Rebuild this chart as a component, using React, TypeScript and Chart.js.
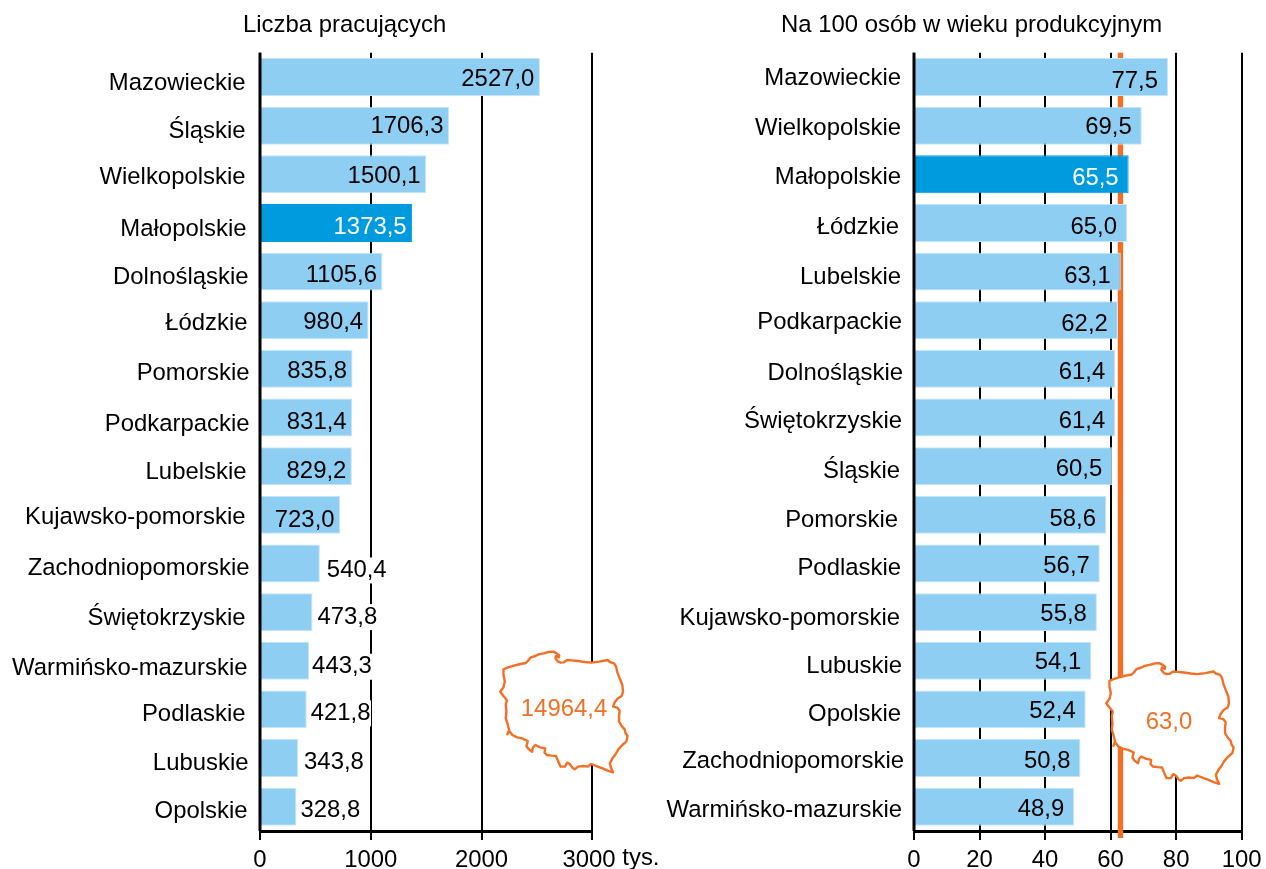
import React, { useEffect, useRef } from "react";
import { Chart, registerables } from "chart.js";

Chart.register(...registerables);

const FONT = '"Liberation Sans", Arial, sans-serif';
const TEXT_SIZE = 23.9;
const LIGHT = "#8ECEF3";
const LIGHT_EDGE = "#C4E5F9";
const DARK = "#009BDE";
const ORANGE = "#F26F25";

const leftTitle = "Liczba pracujących";
const leftCategories = ["Mazowieckie", "Śląskie", "Wielkopolskie", "Małopolskie", "Dolnośląskie", "Łódzkie", "Pomorskie", "Podkarpackie", "Lubelskie", "Kujawsko-pomorskie", "Zachodniopomorskie", "Świętokrzyskie", "Warmińsko-mazurskie", "Podlaskie", "Lubuskie", "Opolskie"];
const leftValues = [2527.0, 1706.3, 1500.1, 1373.5, 1105.6, 980.4, 835.8, 831.4, 829.2, 723.0, 540.4, 473.8, 443.3, 421.8, 343.8, 328.8];
const leftTicks = [0, 1000, 2000, 3000];
const leftTotal = "14964,4";
const leftUnit = "tys.";

const rightTitle = "Na 100 osób w wieku produkcyjnym";
const rightCategories = ["Mazowieckie", "Wielkopolskie", "Małopolskie", "Łódzkie", "Lubelskie", "Podkarpackie", "Dolnośląskie", "Świętokrzyskie", "Śląskie", "Pomorskie", "Podlaskie", "Kujawsko-pomorskie", "Lubuskie", "Opolskie", "Zachodniopomorskie", "Warmińsko-mazurskie"];
const rightValues = [77.5, 69.5, 65.5, 65.0, 63.1, 62.2, 61.4, 61.4, 60.5, 58.6, 56.7, 55.8, 54.1, 52.4, 50.8, 48.9];
const rightTicks = [0, 20, 40, 60, 80, 100];
const rightAverage = 63.0;
const rightAverageLabel = "63,0";
const highlighted = "Małopolskie";

// Small hand-placed nudges seen in the reference
const leftLabelDx = [0, 0, 0, 1, 3, 2, 4, 4, 1, 0, 4, 0, 2, 0, 3, 2];
const leftLabelDy = [5, 4, 2, 5, 5, 2, 3, 6, 5, 1, 4, 5, 6, 4, 4, 3];
const leftValueDy = [1, 0, 1, 3, 3, 1, 2, 4, 4, 5, 6, 4, 5, 3, 3, 3];
const leftValueDx = [0, 0, 0, 0, 0, 0, 0, 0, 0, 0, 1, -1, -3, -2, 0, -2];
const rightLabelDx = [0, 0, 0, -2, 0, 1, 2, 1, -1, -3, 0, -1, 1, 0, 3, 1];
const rightLabelDy = [0, 1, 2, 3, 5, 1, 3, 3, 4, 4, 4, 5, 4, 4, 2, 2];
const rightValueDy = [3, 1, 3, 3, 4, 3, 3, 3, 2, 4, 2, 1, 1, 1, 2, 2];
const rightValueDx = [0, 0, 0, 0, 0, 0, 0, 0, 0, 0, 0, 0, 0, 0, 0, 0];

// Outline of Poland (decoration, not data)
const polandOutline = [[38,88],[50,83],[70,77],[90,72],[106,69],[113,62],[120,53],[135,48],[145,43],[160,40],[175,36],[190,35],[200,40],[208,46],[206,52],[198,48],[196,55],[203,64],[212,68],[222,67],[232,60],[245,61],[265,63],[285,66],[305,68],[330,65],[355,60],[362,66],[375,70],[381,80],[385,97],[392,115],[400,135],[402,155],[398,168],[385,176],[376,188],[372,200],[385,203],[392,212],[390,228],[390,245],[398,258],[407,268],[410,280],[416,288],[412,305],[400,315],[388,328],[378,345],[370,355],[362,370],[366,385],[372,397],[355,392],[340,385],[325,380],[305,372],[295,380],[280,378],[265,380],[255,388],[248,383],[240,372],[232,368],[225,380],[212,380],[205,365],[198,348],[185,347],[170,345],[163,338],[165,325],[150,322],[135,315],[128,322],[125,335],[115,328],[108,318],[112,303],[95,295],[80,292],[65,285],[55,272],[50,283],[55,270],[50,250],[45,235],[47,215],[45,195],[48,180],[38,168],[28,155],[38,142],[42,125],[38,105]];

const fmt = (v: number) => v.toFixed(1).replace(".", ",");

type Cfg = {
  title: string; titleX: number; categories: string[]; values: number[]; ticks: number[]; max: number;
  width: number; axisX: number; plotRight: number; offsetX: number;
  labelRight: number; labelDx: number[]; labelDy: number[]; valueDy: number[]; valueDx: number[];
  inside: (v: number) => boolean; gap: number;
  mapX: number; mapY: number; mapText: string; mapTextX: number; mapTextY: number;
  unit?: string; average?: number;
};

function drawText(ctx: CanvasRenderingContext2D, t: string, x: number, y: number, align: CanvasTextAlign, color = "#000") {
  ctx.font = `${TEXT_SIZE}px ${FONT}`;
  ctx.textAlign = align;
  ctx.textBaseline = "middle";
  ctx.fillStyle = color;
  ctx.fillText(t, x, y);
}

function makeChart(canvas: HTMLCanvasElement, c: Cfg) {
  const annotate = {
    id: "annotate",
    beforeDatasetsDraw(chart: any) {
      if (c.average === undefined) return;
      const ctx = chart.ctx;
      const x = chart.scales.x.getPixelForValue(c.average);
      ctx.save();
      ctx.fillStyle = ORANGE;
      ctx.fillRect(x - 2.7, chart.chartArea.top, 5.4, chart.chartArea.bottom - chart.chartArea.top + 7);
      ctx.restore();
    },
    afterDatasetsDraw(chart: any) {
      const ctx = chart.ctx;
      const xs = chart.scales.x, ys = chart.scales.y;
      ctx.save();
      ctx.fillStyle = "#000";
      ctx.fillRect(c.axisX - 1.5, chart.chartArea.top, 3, chart.chartArea.bottom - chart.chartArea.top);
      c.categories.forEach((name, i) => {
        drawText(ctx, name, c.labelRight + c.labelDx[i], ys.getPixelForValue(i) + c.labelDy[i] + 1.3, "right");
      });
      c.values.forEach((v, i) => {
        const end = xs.getPixelForValue(v);
        const y = ys.getPixelForValue(i) + c.valueDy[i] + 1;
        const t = fmt(v);
        if (c.inside(v)) {
          drawText(ctx, t, end - c.gap + c.valueDx[i], y, "right", c.categories[i] === highlighted ? "#fff" : "#000");
        } else {
          ctx.font = `${TEXT_SIZE}px ${FONT}`;
          const w = ctx.measureText(t).width;
          ctx.fillStyle = "#fff";
          ctx.fillRect(end + 5 + c.valueDx[i], y - 13, w + 1.5, 26);
          drawText(ctx, t, end + 6 + c.valueDx[i], y, "left");
        }
      });
      drawText(ctx, c.title, c.titleX, 25, "left");
      if (c.unit) drawText(ctx, c.unit, xs.getPixelForValue(c.ticks[c.ticks.length - 1]) + 30, 858.5, "left");
      ctx.beginPath();
      polandOutline.forEach(([px, py], i) => {
        const X = c.mapX + (px * 0.985) / 3, Y = c.mapY + py / 3;
        if (i) ctx.lineTo(X, Y); else ctx.moveTo(X, Y);
      });
      ctx.closePath();
      ctx.fillStyle = "#fff";
      ctx.fill();
      ctx.strokeStyle = ORANGE;
      ctx.lineWidth = 2.4;
      ctx.lineJoin = "round";
      ctx.stroke();
      drawText(ctx, c.mapText, c.mapTextX, c.mapTextY, "center", ORANGE);
      ctx.restore();
    },
  };

  return new Chart(canvas, {
    type: "bar",
    data: {
      labels: c.categories,
      datasets: [{
        data: c.values,
        backgroundColor: c.categories.map((n) => (n === highlighted ? DARK : LIGHT)),
        borderColor: c.categories.map((n) => (n === highlighted ? DARK : LIGHT_EDGE)),
        borderWidth: 1,
        categoryPercentage: 1,
        barPercentage: 0.78,
      }],
    },
    plugins: [annotate],
    options: {
      indexAxis: "y",
      animation: false,
      responsive: false,
      maintainAspectRatio: false,
      layout: { padding: { top: 52.7, right: c.width - c.plotRight, left: 0, bottom: 0 } },
      plugins: { legend: { display: false }, title: { display: false }, tooltip: { enabled: false } },
      scales: {
        x: {
          type: "linear",
          min: 0,
          max: c.max,
          afterFit: (s: any) => { s.height = 38; },
          afterBuildTicks: (s: any) => { s.ticks = c.ticks.map((value) => ({ value })); },
          grid: { color: "#000", lineWidth: 2, tickLength: 9, drawTicks: true },
          border: { color: "#000", width: 3 },
          ticks: {
            color: "#000", padding: 6, maxRotation: 0, autoSkip: false,
            font: { family: FONT, size: TEXT_SIZE },
            // trailing space keeps the "3000" clear of the unit, as in the reference
            callback: (v: any) => (c.unit && v === c.max ? `${v} ` : String(v)),
          },
        },
        y: {
          type: "category",
          afterFit: (s: any) => { s.width = c.axisX; },
          grid: { display: false },
          border: { display: false },
          ticks: { display: false },
        },
      },
    } as any,
  });
}

const leftCfg: Cfg = {
  title: leftTitle, titleX: 243, categories: leftCategories, values: leftValues, ticks: leftTicks, max: 3000,
  width: 660, axisX: 260, plotRight: 592.3, offsetX: 0, labelRight: 245.5,
  labelDx: leftLabelDx, labelDy: leftLabelDy, valueDy: leftValueDy, valueDx: leftValueDx,
  inside: (v) => v >= 700, gap: 5.5,
  mapX: 491, mapY: 640, mapText: leftTotal, mapTextX: 564, mapTextY: 709, unit: leftUnit,
};

const rightCfg: Cfg = {
  title: rightTitle, titleX: 121, categories: rightCategories, values: rightValues, ticks: rightTicks, max: 100,
  width: 606 + 20, axisX: 254, plotRight: 581.7, offsetX: 660, labelRight: 241,
  labelDx: rightLabelDx, labelDy: rightLabelDy, valueDy: rightValueDy, valueDx: rightValueDx,
  inside: () => true, gap: 10,
  mapX: 437, mapY: 651.5, mapText: rightAverageLabel, mapTextX: 509, mapTextY: 722, average: rightAverage,
};

function Panel({ cfg }: { cfg: Cfg }) {
  const ref = useRef<HTMLCanvasElement>(null);
  useEffect(() => {
    const chart = makeChart(ref.current!, cfg);
    return () => chart.destroy();
  }, []);
  return (
    <canvas
      ref={ref}
      width={cfg.width}
      height={869}
      style={{ position: "absolute", left: cfg.offsetX, top: 0, width: cfg.width, height: 869 }}
    />
  );
}

export default function App() {
  return (
    <div style={{ position: "absolute", left: 0, top: 0, width: 1266, height: 869, overflow: "hidden", background: "#fff" }}>
      <Panel cfg={leftCfg} />
      <Panel cfg={rightCfg} />
    </div>
  );
}
